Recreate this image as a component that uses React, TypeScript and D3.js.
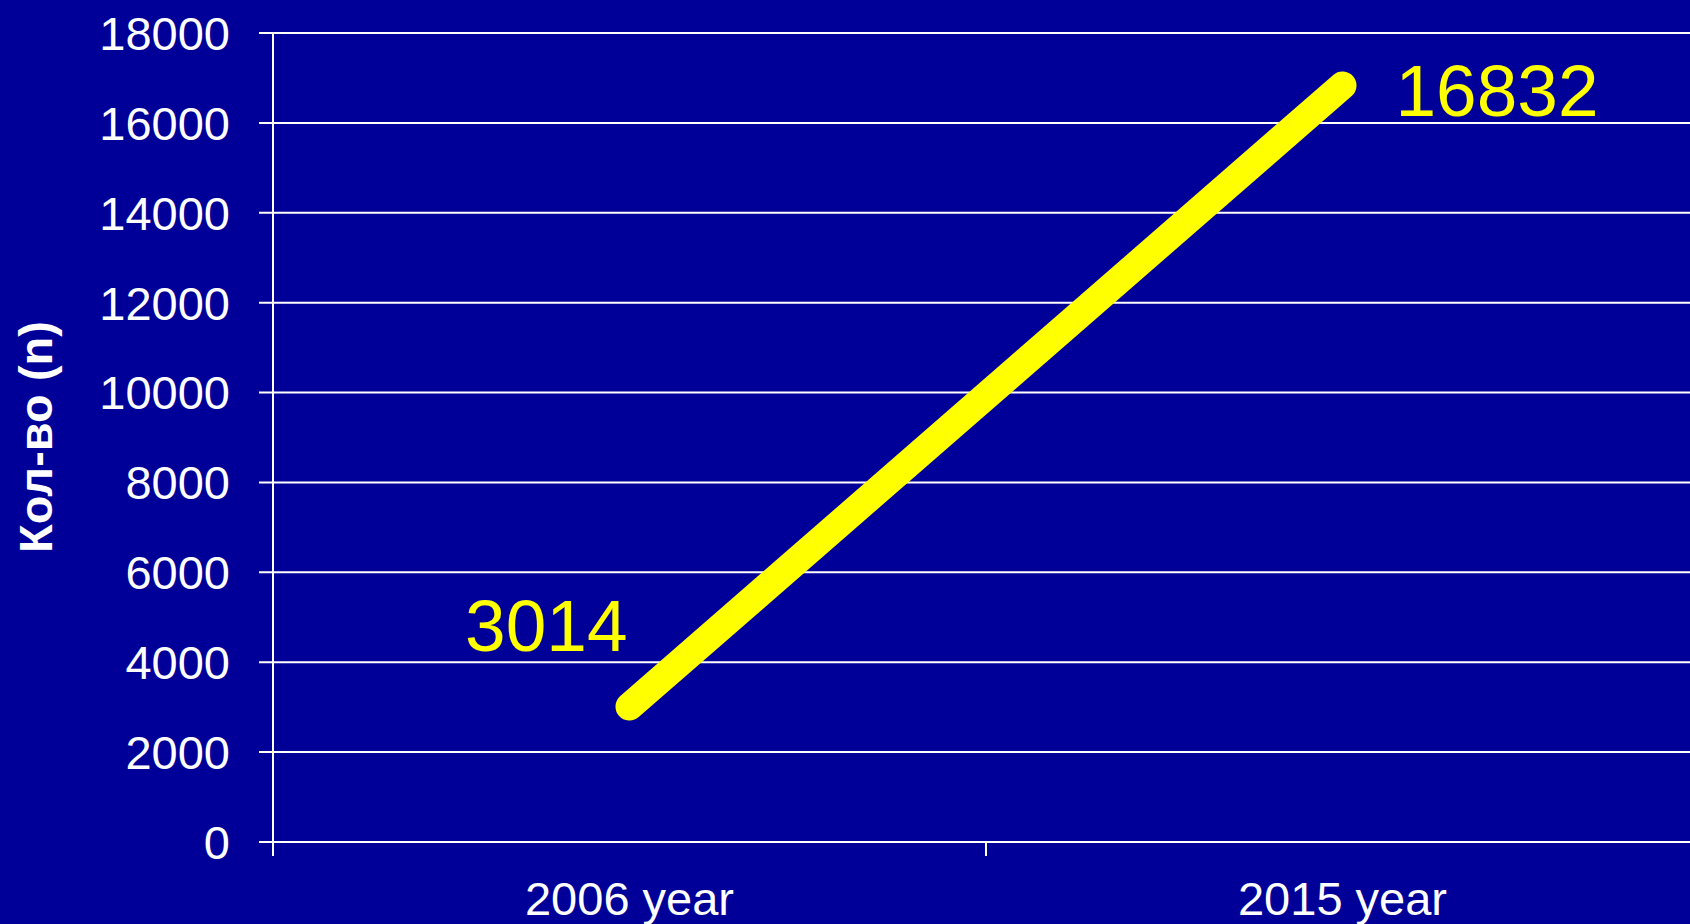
import React from "react";
import * as d3 from "d3";

const categories = ["2006 year", "2015 year"];
const values = [3014, 16832];
const yTicks = [0, 2000, 4000, 6000, 8000, 10000, 12000, 14000, 16000, 18000];
const yTitle = "Кол-во (n)";

const W = 1690;
const H = 924;
const BG = "#000099";
const FONT = "'Liberation Sans', Arial, sans-serif";

export default function App() {
  const x = d3.scaleBand<string>().domain(categories).range([273, 1699]).paddingInner(0).paddingOuter(0);
  const y = d3.scaleLinear().domain([0, 18000]).range([842, 33]);
  const cx = (c: string) => (x(c) as number) + x.bandwidth() / 2;
  const pts: [number, number][] = categories.map((c, i) => [cx(c), y(values[i])]);
  const line = d3.line<[number, number]>()(pts) as string;
  const boundaries = [...categories.map((c) => x(c) as number), x.range()[1]];

  return (
    <svg width={W} height={H} style={{ position: "absolute", left: 0, top: 0, display: "block" }}>
      <rect x={0} y={0} width={W} height={H} fill={BG} />
      {yTicks.map((t) => (
        <g key={t}>
          <line x1={259} x2={W} y1={y(t)} y2={y(t)} stroke="#ffffff" strokeWidth={2} />
          <text x={230} y={y(t)} dy="0.36em" textAnchor="end" fill="#ffffff" fontFamily={FONT} fontSize={47}>
            {t}
          </text>
        </g>
      ))}
      <line x1={273} x2={273} y1={y(18000)} y2={856} stroke="#ffffff" strokeWidth={2} />
      {boundaries.map((b, i) => (
        <line key={i} x1={b} x2={b} y1={842} y2={856} stroke="#ffffff" strokeWidth={2} />
      ))}
      {categories.map((c) => (
        <text key={c} x={cx(c)} y={915} textAnchor="middle" fill="#ffffff" fontFamily={FONT} fontSize={47}>
          {c}
        </text>
      ))}
      <text
        transform={`translate(52,437) rotate(-90)`}
        textAnchor="middle"
        fill="#ffffff"
        fontFamily={FONT}
        fontWeight="bold"
        fontSize={47}
      >
        {yTitle}
      </text>
      <path d={line} fill="none" stroke="#ffff00" strokeWidth={28} strokeLinecap="round" />
      <text x={pts[0][0] - 2} y={pts[0][1] - 56} textAnchor="end" fill="#ffff00" fontFamily={FONT} fontSize={73}>
        {values[0]}
      </text>
      <text x={pts[1][0] + 53} y={pts[1][1] + 31} textAnchor="start" fill="#ffff00" fontFamily={FONT} fontSize={73}>
        {values[1]}
      </text>
    </svg>
  );
}
